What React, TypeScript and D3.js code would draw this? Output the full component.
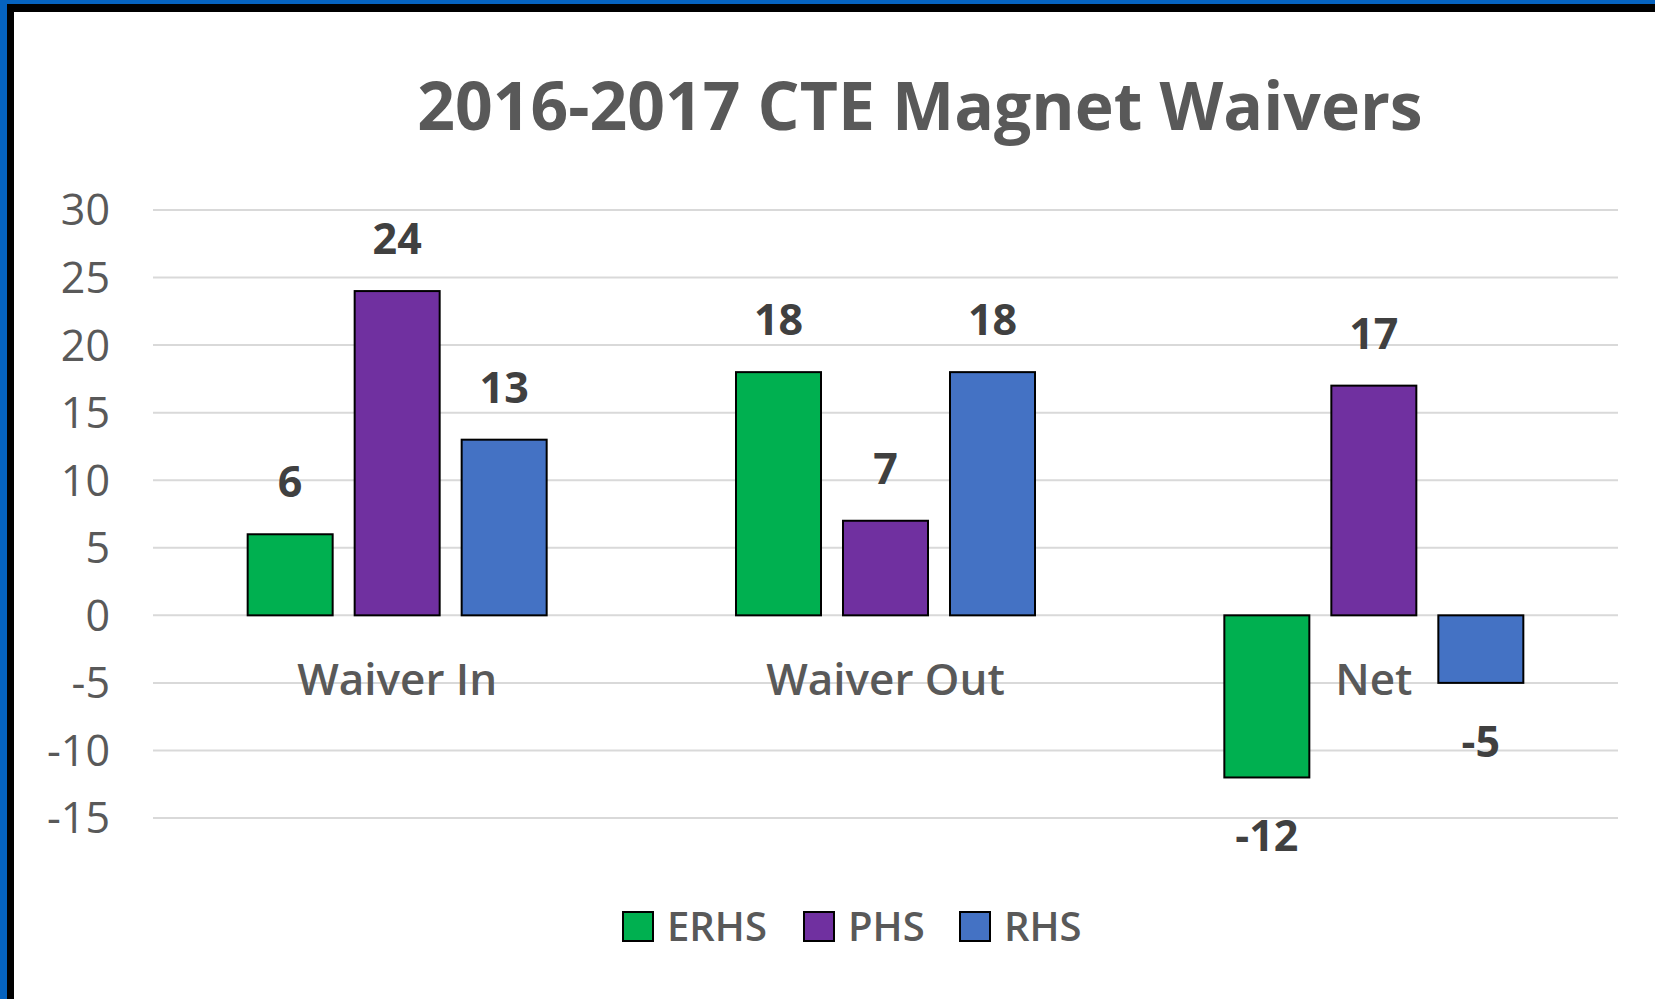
import React from "react";
import * as d3 from "d3";

// chart data
const categories = ["Waiver In", "Waiver Out", "Net"];
const seriesNames = ["ERHS", "PHS", "RHS"];
const erhsValues = [6, 18, -12];
const phsValues = [24, 7, 17];
const rhsValues = [13, 18, -5];
const yTicks = [30, 25, 20, 15, 10, 5, 0, -5, -10, -15];
const colors = ["#00B050", "#7030A0", "#4472C4"];

const W = 1655;
const H = 999;
const FONT = "'Open Sans', 'Noto Sans', sans-serif";

export default function App() {
    const series = [erhsValues, phsValues, rhsValues];

    const x0 = d3.scaleBand<string>().domain(categories).range([153, 1618]);
    const x1 = d3.scaleBand<string>().domain(seriesNames).range([-149.5, 149.5]).paddingInner(0.2056);
    const y = d3.scaleLinear().domain([-15, 30]).range([818, 210]);

    const center = (c: string) => (x0(c) as number) + x0.bandwidth() / 2;

    return (
        <svg width={W} height={H} style={{ position: "absolute", left: 0, top: 0 }}>
            {/* frame */}
            <rect x={0} y={0} width={W} height={H} fill="#0563C0" />
            <rect x={7} y={4} width={W} height={H} fill="#000000" />
            <rect x={14} y={12} width={W} height={H} fill="#ffffff" />

            {/* title */}
            <text x={920} y={130} textAnchor="middle" fontFamily={FONT} fontWeight={700} fontSize={66} fill="#595959">
                2016-2017 CTE Magnet Waivers
            </text>

            {/* gridlines and y ticks */}
            {yTicks.map((t) => (
                <g key={t}>
                    <line x1={153} x2={1618} y1={y(t)} y2={y(t)} stroke="#D9D9D9" strokeWidth={2} />
                    <text x={110} y={y(t)} dy="0.36em" textAnchor="end" fontFamily={FONT} fontSize={43} fill="#595959">
                        {t}
                    </text>
                </g>
            ))}

            {/* bars */}
            {categories.map((c, ci) => (
                <g key={c}>
                    {seriesNames.map((s, si) => {
                        const v = series[si][ci];
                        const bx = center(c) + (x1(s) as number);
                        const top = Math.min(y(v), y(0));
                        const h = Math.abs(y(v) - y(0));
                        return (
                            <g key={s}>
                                <rect x={bx} y={top} width={x1.bandwidth()} height={h}
                                    fill={colors[si]} stroke="#000" strokeWidth={2} />
                                <text x={bx + x1.bandwidth() / 2} y={v >= 0 ? y(v) - 37 : y(v) + 74}
                                    textAnchor="middle" fontFamily={FONT} fontWeight={700} fontSize={43} fill="#404040">
                                    {v}
                                </text>
                            </g>
                        );
                    })}
                    <text x={center(c)} y={695} textAnchor="middle" fontFamily={FONT} fontWeight={600} fontSize={44} fill="#595959">
                        {c}
                    </text>
                </g>
            ))}

            {/* legend */}
            {seriesNames.map((s, i) => {
                const lx = [623, 804, 960][i];
                return (
                    <g key={s}>
                        <rect x={lx} y={912} width={30} height={29} fill={colors[i]} stroke="#000" strokeWidth={2} />
                        <text x={lx + 44} y={941} fontFamily={FONT} fontWeight={600} fontSize={40} fill="#595959">
                            {s}
                        </text>
                    </g>
                );
            })}
        </svg>
    );
}
